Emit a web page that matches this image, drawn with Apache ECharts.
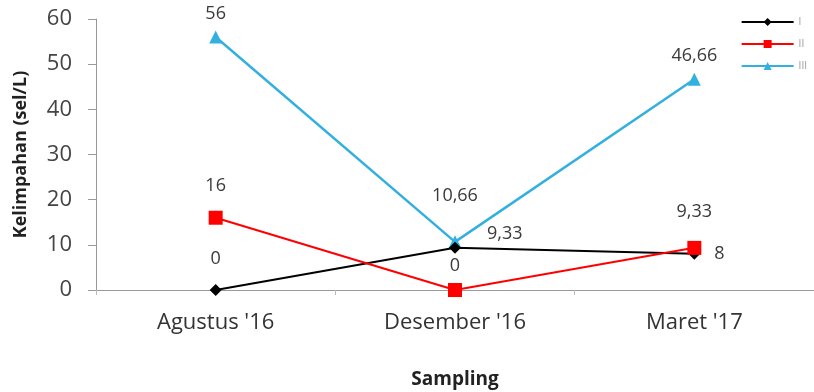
<!DOCTYPE html>
<html>
<head>
<meta charset="utf-8">
<script src="https://cdn.jsdelivr.net/npm/echarts@6/dist/echarts.min.js"></script>
<style>
  html, body { margin: 0; padding: 0; background: #fff; }
  #chart { width: 814px; height: 392px; }
</style>
</head>
<body>
<div id="chart"></div>
<script>
// data
const categories = ["Agustus '16", "Desember '16", "Maret '17"];
const seriesNames = ['I', 'II', 'III'];
const valuesI = [0, 9.33, 8];
const valuesII = [16, 0, 9.33];
const valuesIII = [56, 10.66, 46.66];
const yTicks = [0, 10, 20, 30, 40, 50, 60];

const chart = echarts.init(document.getElementById('chart'));

const font = 'Open Sans';
function fmt(p) {
    return String(p.value).replace('.', ',');
}

// label placement per point, to mimic the original
const labelI = [
    { position: 'top', distance: 16 },
    { position: 'right', offset: [18, -14], distance: 8 },
    { position: 'right', distance: 14 }
];
const labelII = [
    { position: 'top', distance: 16 },
    { position: 'top', distance: 8 },
    { position: 'top', distance: 20 }
];
const labelIII = [
    { position: 'top', distance: 8 },
    { position: 'top', distance: 30 },
    { position: 'top', distance: 8 }
];

function buildData(values, labels) {
    return values.map((v, i) => ({ value: v, label: labels[i] }));
}

const baseLabel = {
    show: true,
    formatter: fmt,
    color: '#3a3a3a',
    fontSize: 18,
    fontFamily: font
};

chart.setOption({
    animation: false,
    grid: { left: 96, right: 0, top: 19, bottom: 102, outerBoundsMode: 'none' },
    legend: {
        orient: 'vertical',
        right: 2,
        top: 12,
        itemWidth: 52,
        itemHeight: 10,
        itemGap: 12,
        data: seriesNames,
        textStyle: { color: '#999', fontSize: 10, fontFamily: font }
    },
    xAxis: {
        type: 'category',
        data: categories,
        boundaryGap: true,
        name: 'Sampling',
        nameLocation: 'middle',
        nameGap: 80,
        nameTextStyle: { fontWeight: 'bold', fontSize: 19, color: '#222', fontFamily: font },
        axisLine: { lineStyle: { color: '#999' } },
        axisTick: { show: true, length: 5, inside: false, lineStyle: { color: '#bbb' } },
        axisLabel: { fontSize: 22, color: '#333', margin: 22, fontFamily: font }
    },
    yAxis: {
        type: 'value',
        min: yTicks[0],
        max: yTicks[yTicks.length - 1],
        interval: 10,
        name: 'Kelimpahan (sel/L)',
        nameLocation: 'middle',
        nameGap: 66,
        nameTextStyle: { fontWeight: 'bold', fontSize: 18, color: '#222', fontFamily: font },
        axisLine: { show: true, lineStyle: { color: '#999' } },
        axisTick: { show: true, length: 8, lineStyle: { color: '#999' } },
        splitLine: { show: false },
        axisLabel: { fontSize: 22, color: '#444', margin: 24, fontFamily: font }
    },
    series: [
        {
            name: seriesNames[0],
            type: 'line',
            data: buildData(valuesI, labelI),
            symbol: 'diamond',
            symbolSize: 12,
            lineStyle: { color: '#000', width: 2 },
            itemStyle: { color: '#000' },
            label: baseLabel,
            z: 3
        },
        {
            name: seriesNames[1],
            type: 'line',
            data: buildData(valuesII, labelII),
            symbol: 'rect',
            symbolSize: 14,
            lineStyle: { color: '#f00', width: 2 },
            itemStyle: { color: '#f00' },
            label: baseLabel,
            z: 4
        },
        {
            name: seriesNames[2],
            type: 'line',
            data: buildData(valuesIII, labelIII),
            symbol: 'triangle',
            symbolSize: 13,
            lineStyle: { color: '#33b0e0', width: 2.5 },
            itemStyle: { color: '#33b0e0' },
            label: baseLabel,
            z: 2
        }
    ]
});
</script>
</body>
</html>
